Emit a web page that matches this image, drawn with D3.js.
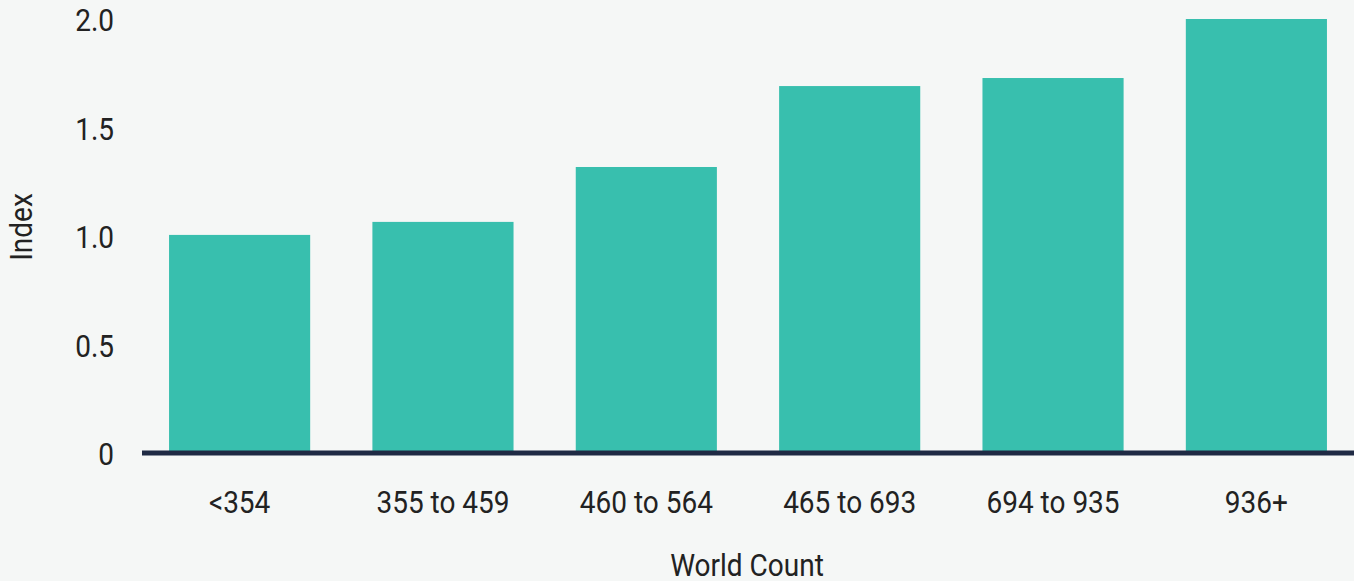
<!DOCTYPE html>
<html>
<head>
<meta charset="utf-8">
<script src="https://cdn.jsdelivr.net/npm/d3@7"></script>
<style>
  html, body { margin: 0; padding: 0; background: #f5f7f6; }
  svg { display: block; }
  text { font-family: Roboto, "Noto Sans", sans-serif; fill: #222; }
</style>
</head>
<body>
<div id="chart"></div>
<script>
const categories = ["<354", "355 to 459", "460 to 564", "465 to 693", "694 to 935", "936+"];
const values = [1.005, 1.065, 1.318, 1.691, 1.728, 2.0];
const yTicks = [0, 0.5, 1.0, 1.5, 2.0];
const xTitle = "World Count";
const yTitle = "Index";

const W = 1354, H = 581;
const SX = 0.875; // horizontal condensing of the font
const FS = 32;

const svg = d3.select("#chart").append("svg")
  .attr("width", W).attr("height", H);

svg.append("rect").attr("width", W).attr("height", H).attr("fill", "#f5f7f6");

const x = d3.scaleBand().domain(categories).range([142, 1354])
  .paddingInner(0.306).paddingOuter(0.133);
const y = d3.scaleLinear().domain([0, 2]).range([453, 19]);

// bars
svg.append("g").selectAll("rect").data(values).join("rect")
  .attr("x", (d, i) => x(categories[i]))
  .attr("width", x.bandwidth())
  .attr("y", d => y(d))
  .attr("height", d => y(0) - y(d))
  .attr("fill", "#38bfae");

// baseline
svg.append("line")
  .attr("x1", 142).attr("x2", W)
  .attr("y1", y(0)).attr("y2", y(0))
  .attr("stroke", "#1f2a44").attr("stroke-width", 5);

// y axis
const yAxis = svg.append("g").attr("transform", "translate(114,0)")
  .call(d3.axisLeft(y).tickValues(yTicks).tickSize(0).tickPadding(0)
    .tickFormat(d => d === 0 ? "0" : d3.format(".1f")(d)));
yAxis.select(".domain").remove();
yAxis.selectAll("text")
  .attr("x", 0).attr("dy", "0.36em")
  .attr("transform", `scale(${SX},1)`)
  .style("font-size", FS + "px").style("font-family", "Roboto").attr("fill", "#222");

// x axis
const xAxis = svg.append("g").attr("transform", `translate(0,${y(0)})`)
  .call(d3.axisBottom(x).tickSize(0).tickPadding(0));
xAxis.select(".domain").remove();
xAxis.selectAll("text")
  .attr("y", 37).attr("dy", "0.71em")
  .attr("transform", `scale(${SX},1)`)
  .style("font-size", FS + "px").style("font-family", "Roboto").attr("fill", "#222");

// titles
svg.append("text")
  .attr("transform", `translate(747,576) scale(${SX},1)`)
  .attr("text-anchor", "middle")
  .style("font-size", FS + "px")
  .text(xTitle);

svg.append("text")
  .attr("transform", `translate(32,227) rotate(-90) scale(${SX},1)`)
  .attr("text-anchor", "middle")
  .style("font-size", FS + "px")
  .text(yTitle);
</script>
</body>
</html>
